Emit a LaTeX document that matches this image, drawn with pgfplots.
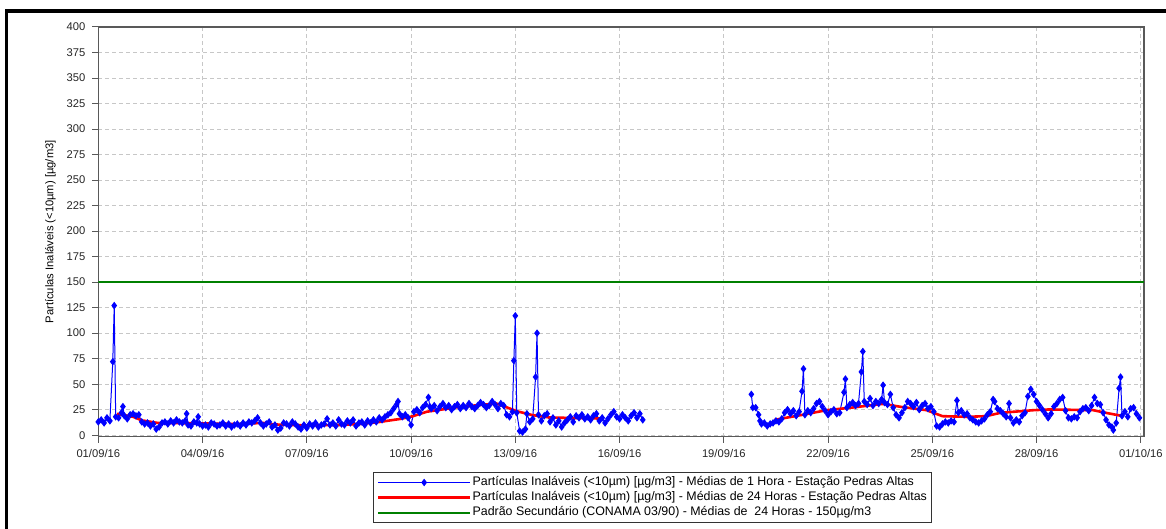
\documentclass[border=0pt]{standalone}
\usepackage{pgfplots}
\usepackage{pgfplotstable}
\pgfplotsset{compat=1.18}
\usepackage{fontspec}
\setmainfont{Liberation Sans}

% hourly PM10 (x in hours from 01/09/16 00h)
\pgfplotstableread{
h v
0 13
2 15
4 12
6 17
8 14
10 72
11 127
12 18
14 17
16 22
17 28
18 19
20 16
22 20
24 21
26 19
28 20
30 13
32 11
34 12
36 9
38 11
40 6
42 8
44 12
46 13
48 11
50 14
52 12
54 15
56 13
58 12
60 14
61 21
62 10
64 9
66 13
68 12
69 18
70 11
72 9
74 10
76 8
78 12
80 11
82 9
84 10
86 12
88 9
90 11
92 8
94 10
96 11
98 9
100 12
102 10
104 13
106 12
108 14
110 17
112 12
114 9
116 11
118 13
120 8
122 10
124 5
126 7
128 12
130 11
132 9
134 13
136 11
138 8
140 6
142 10
144 7
146 11
148 9
150 12
152 8
154 10
156 11
158 16
160 10
162 12
164 9
166 15
168 11
170 10
172 14
174 12
176 15
178 9
180 12
182 13
184 10
186 14
188 12
190 15
192 13
194 17
196 15
198 18
200 20
202 22
204 26
206 30
207 33
208 21
210 18
212 20
214 17
216 10
218 23
220 25
222 22
224 27
226 30
228 37
229 28
230 26
232 29
234 24
236 28
238 31
240 27
242 29
244 25
246 28
248 30
250 26
252 29
254 27
256 31
258 28
260 26
262 29
264 32
266 30
268 27
270 29
272 33
274 30
276 26
278 31
280 29
282 20
284 18
286 23
287 73
288 117
289 22
291 4
293 3
295 6
296 21
298 13
300 16
302 57
303 100
304 20
306 14
308 19
310 21
312 13
314 17
316 10
318 14
320 8
322 12
324 15
326 18
328 13
330 19
332 17
334 20
336 16
338 18
340 15
342 19
344 21
346 14
348 17
350 12
352 16
354 20
356 23
358 18
360 16
362 20
364 17
366 14
368 19
370 22
372 17
374 21
376 15
nan nan
451 40
452 27
454 27
456 20
457 14
458 11
460 12
462 9
464 11
466 12
468 14
470 13
472 16
474 22
476 25
478 21
480 24
482 19
484 23
486 43
487 65
488 20
490 24
492 22
494 26
496 31
498 33
500 28
502 24
504 20
506 23
508 25
510 21
512 22
515 42
516 55
517 27
519 30
521 32
523 29
525 31
527 62
528 82
529 33
531 30
533 36
535 29
537 33
539 31
541 35
542 49
543 32
545 30
547 40
549 27
551 20
553 17
555 22
557 27
559 33
561 31
563 28
565 32
567 25
569 29
571 31
573 26
575 28
577 23
579 9
581 8
583 11
585 13
587 12
589 14
591 13
593 34
594 22
596 24
598 20
600 21
602 17
604 15
606 13
608 12
610 14
612 16
614 20
616 23
618 35
619 33
621 26
623 24
625 21
627 18
629 31
630 17
632 12
634 15
636 13
638 19
640 22
642 38
644 45
646 40
648 33
650 29
652 25
654 21
656 17
658 21
660 28
662 31
664 35
666 37
668 24
670 17
672 16
674 18
676 17
678 23
680 26
682 27
684 24
686 29
688 37
690 31
692 30
694 22
696 15
698 10
700 8
701 5
703 12
705 46
706 57
707 19
709 23
711 18
713 26
715 27
717 21
719 17
}\hourly

% 24 h moving average
\pgfplotstableread{
h v
13 21
24 18
30 14.5
41 12
72 11.5
96 11
114 12
122 10.5
144 9.5
168 10
181 11
192 12.5
209 16
217 18.5
227 23
250 27.8
275 31
280 28.4
289 23.5
300 19.6
312 17.3
347 16.3
nan nan
467 15
485 19.6
503 24.5
521 27.1
540 30.4
543 30.4
554 27.8
572 24.5
583 18.6
600 18
613 18.6
623 21.9
646 24.5
657 25.2
687 24.5
698 21.3
708 18.6
}\daily

\begin{document}
\begin{tikzpicture}
\useasboundingbox (0,0) rectangle (583pt,264.5pt);
\draw[line width=1.6pt] (3.3pt,0) -- (3.3pt,259pt) -- (583pt,259pt);
\begin{axis}[
    at={(49.15pt,46.15pt)},
    anchor=south west,
    scale only axis,
    width=522.85pt,
    height=204.85pt,
    xmin=0, xmax=722.2,
    ymin=-1.5, ymax=400,
    xtick={0,72,...,720},
    xticklabels={01/09/16,04/09/16,07/09/16,10/09/16,13/09/16,16/09/16,19/09/16,22/09/16,25/09/16,28/09/16,01/10/16},
    ytick={0,25,...,400},
    xtick pos=bottom, ytick pos=left,
    tick align=outside,
    major tick length=3pt,
    tick style={draw=black!65, line width=0.5pt},
    axis line style={draw=black!65, line width=0.8pt},
    grid=major,
    major grid style={draw=black!22, dash pattern=on 2pt off 1.5pt, line width=0.5pt},
    /pgf/number format/assume math mode=true,
    tick label style={font=\fontsize{5.6}{6.5}\selectfont, text=black!85},
    ylabel={Partículas Inaláveis (<10µm) [µg/m3]},
    every axis y label/.style={at={(axis description cs:0,0.5)}, xshift=-24pt, rotate=90, anchor=center, font=\fontsize{5.6}{6.5}\selectfont},
    unbounded coords=jump,
    legend cell align=left,
    legend style={at={(axis description cs:0.53,-0.086)}, anchor=north,
        font=\fontsize{6.2}{7}\selectfont, draw=black!80, line width=0.5pt,
        nodes={inner sep=0.6pt, text height=4.6pt, text depth=1.3pt},
        row sep=0.4pt, inner sep=1.5pt},
    legend image code/.code={\draw[mark repeat=2,mark phase=2] plot coordinates {(0pt,0pt) (23pt,0pt) (46pt,0pt)};},
]
\addplot[blue, line width=0.5pt, mark=diamond*, mark size=1.5pt, mark options={fill=blue, draw=blue}] table[x=h, y=v] {\hourly};
\addplot[red, line width=1.3pt] table[x=h, y=v] {\daily};
\addplot[color={rgb,255:red,0;green,128;blue,0}, line width=1pt] coordinates {(0,150) (722.2,150)};
\legend{Partículas Inaláveis (<10µm) [µg/m3] - Médias de 1 Hora - Estação Pedras Altas,
        Partículas Inaláveis (<10µm) [µg/m3] - Médias de 24 Horas - Estação Pedras Altas,
        Padrão Secundário (CONAMA 03/90) - Médias de\ \ 24 Horas - 150µg/m3}
\end{axis}
\end{tikzpicture}
\end{document}
